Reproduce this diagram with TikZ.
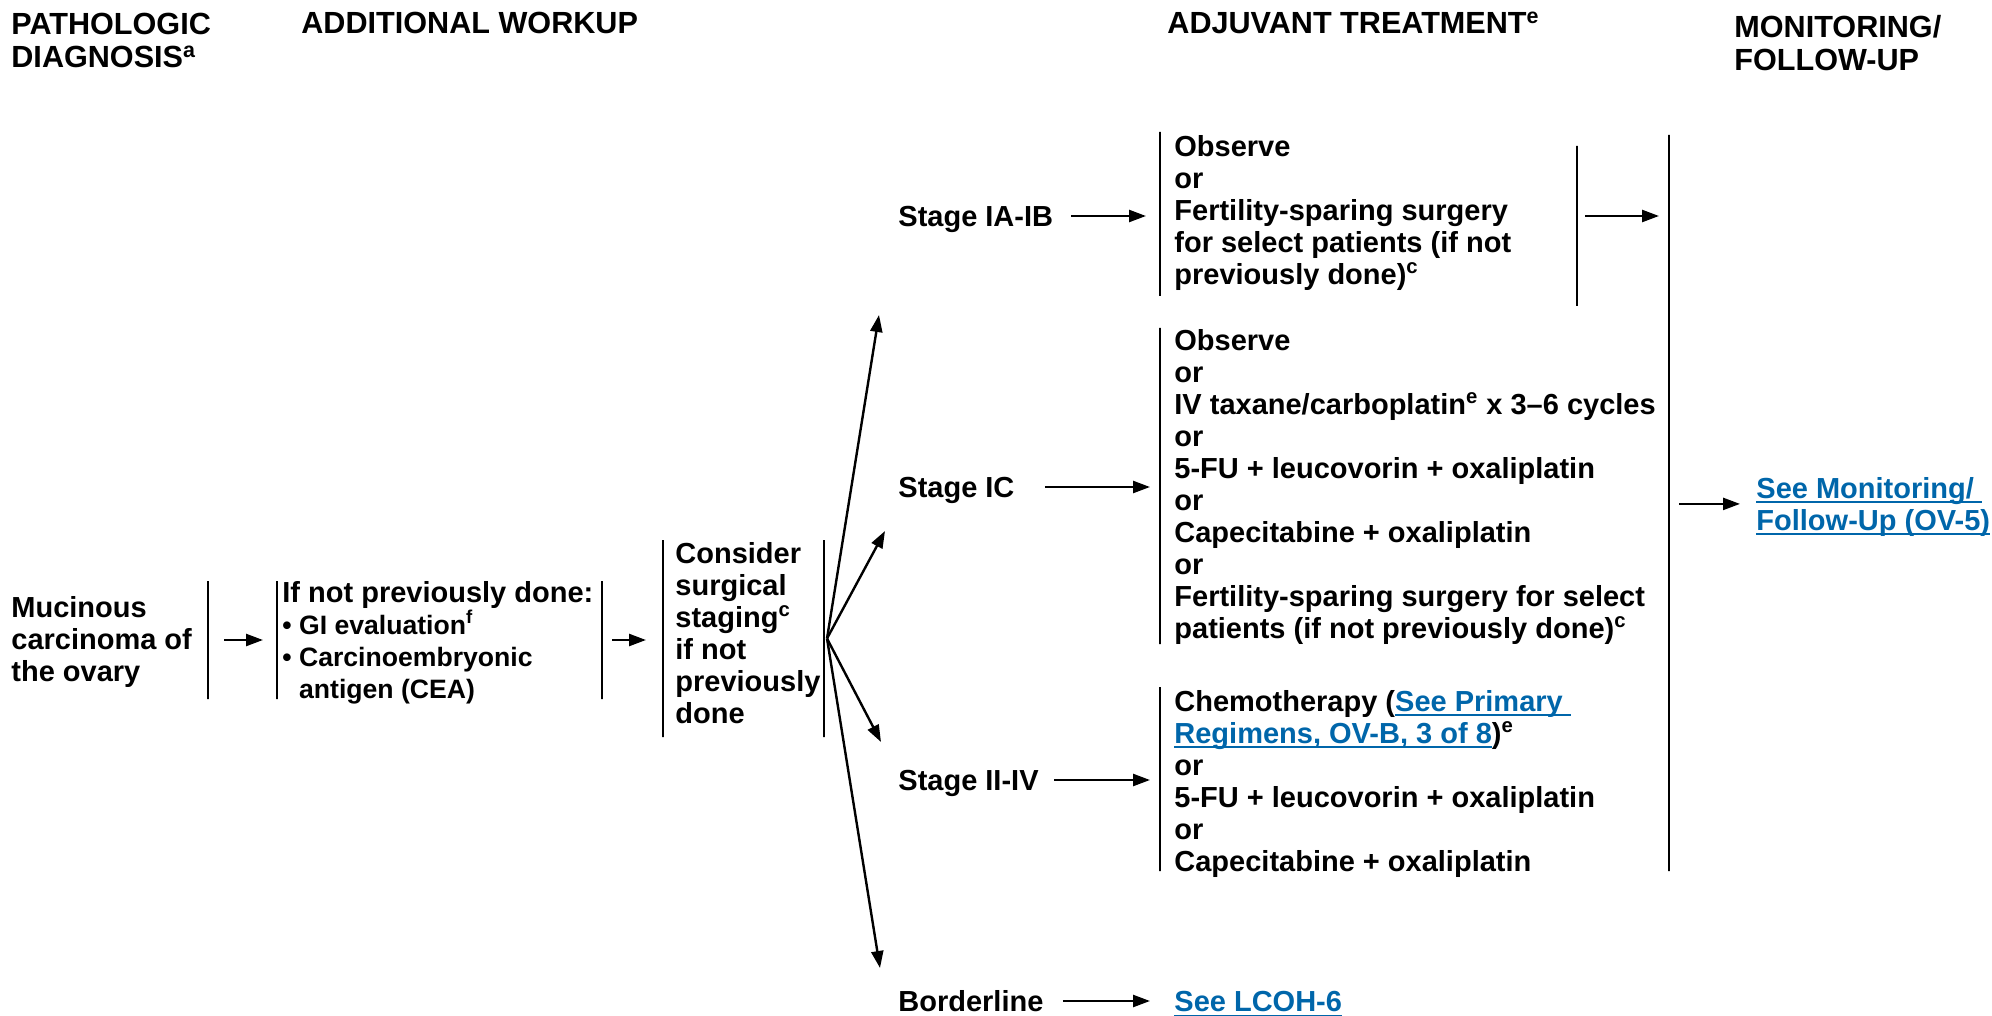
\documentclass[tikz,border=0pt]{standalone}
\usepackage{fontspec}
\setmainfont{Liberation Sans}
\usetikzlibrary{arrows.meta}
\definecolor{link}{RGB}{0,102,170}
\newcommand{\lnk}[1]{\textcolor{link}{\setbox0\hbox{#1}\rlap{\rule[-2.4pt]{\wd0}{0.9pt}}\box0}}
\begin{document}
\begin{tikzpicture}[x=0.5pt,y=-0.5pt,
  txt/.style={inner sep=0pt, font=\fontsize{14.5}{16}\selectfont\bfseries, align=left},
  hdr/.style={txt, font=\fontsize{15.3}{16.5}\selectfont\bfseries},
  one/.style={txt, text height=10.5pt, text depth=0pt, anchor=west},
  arr/.style={-{Triangle[length=8.5pt,width=6pt]}, line width=1.2pt},
  bar/.style={draw, line width=1.2pt, inner sep=0pt, minimum width=0pt, rectangle},
]
\useasboundingbox (0,0) rectangle (1992,1016);

% headers
\node[hdr, anchor=north west] (hPath) at (11,13) {PATHOLOGIC\\DIAGNOSIS\textsuperscript{a}};
\node[hdr, anchor=west, text height=11pt, text depth=0pt] (hWork) at (301,22.5) {ADDITIONAL WORKUP};
\node[hdr, anchor=west, text height=11pt, text depth=0pt] (hAdj) at (1167,22.5) {ADJUVANT TREATMENT\textsuperscript{e}};
\node[hdr, anchor=north west] (hMon) at (1734,15) {MONITORING/\\FOLLOW-UP};

% left part
\node[txt, anchor=north west] (muc) at (11,596) {Mucinous\\carcinoma of\\the ovary};
\node[txt, anchor=north west] (wk) at (282,581) {If not previously done:\\
  {\fontsize{13.3}{16}\selectfont\textbullet\ GI evaluation\textsuperscript{f}}\\
  {\fontsize{13.3}{16}\selectfont\textbullet\ Carcinoembryonic}\\
  {\fontsize{13.3}{16}\selectfont\phantom{\textbullet\ }antigen (CEA)}};
\node[txt, anchor=north west] (cons) at (675,542) {Consider\\surgical\\staging\textsuperscript{c}\\if not\\previously\\done};

% bars
\node[bar, minimum height=59pt] (b1) at (208,640) {};
\node[bar, minimum height=59pt] (b2) at (277,640) {};
\node[bar, minimum height=59pt] (b3) at (602,640) {};
\node[bar, minimum height=98.5pt] (b4) at (663,638.5) {};
\node[bar, minimum height=98.5pt] (b5) at (824,638.5) {};
\node[bar, minimum height=82pt] (bA) at (1160,214) {};
\node[bar, minimum height=80pt] (bA2) at (1577,226) {};
\node[bar, minimum height=158pt] (bC) at (1160,486) {};
\node[bar, minimum height=92pt] (bD) at (1160,779) {};
\node[bar, minimum height=368pt] (bM) at (1669,503) {};

% stages
\node[one] (sA) at (898,216) {Stage IA-IB};
\node[one] (sC) at (898,487) {Stage IC};
\node[one] (sD) at (898,780) {Stage II-IV};
\node[one] (sB) at (898,1001) {Borderline};

% treatments
\node[txt, anchor=north west] (tA) at (1174,135) {Observe\\or\\Fertility-sparing surgery\\for select patients (if not\\previously done)\textsuperscript{c}};
\node[txt, anchor=north west] (tC) at (1174,329) {Observe\\or\\IV taxane/carboplatin\textsuperscript{e} x 3–6 cycles\\or\\5-FU + leucovorin + oxaliplatin\\or\\Capecitabine + oxaliplatin\\or\\Fertility-sparing surgery for select\\patients (if not previously done)\textsuperscript{c}};
\node[txt, anchor=north west] (tD) at (1174,690) {Chemotherapy (\lnk{See Primary\ }\\\lnk{Regimens, OV-B, 3 of 8})\textsuperscript{e}\\or\\5-FU + leucovorin + oxaliplatin\\or\\Capecitabine + oxaliplatin};
\node[one] (tB) at (1174,1001) {\lnk{See LCOH-6}};
\node[txt, anchor=north west] (mon) at (1756,477) {\lnk{See Monitoring/\ }\\\lnk{Follow-Up (OV-5)}};

% connectors
\draw[arr] ([xshift=8pt]b1.center) -- ([xshift=-7pt]b2.center);
\draw[arr] ([xshift=5pt]b3.center) -- ([xshift=-8.5pt]b4.center |- b3.center);
\coordinate (fan) at ([xshift=1.5pt]b5.center);
\coordinate (fA) at (879,315);
\coordinate (fC) at (885,531);
\coordinate (fD) at (881,742);
\coordinate (fB) at (880,968);
\draw[arr] (fan) -- (fA);
\draw[arr] (fan) -- (fC);
\draw[arr] (fan) -- (fD);
\draw[arr] (fan) -- (fB);
\draw[arr] ([xshift=9pt]sA.east) -- ([xshift=-7pt]sA.east -| bA.center);
\draw[arr] ([xshift=15pt]sC.east) -- ([xshift=-5pt]sC.east -| bC.center);
\draw[arr] ([xshift=7.5pt]sD.east) -- ([xshift=-5pt]sD.east -| bD.center);
\draw[arr] ([xshift=9.5pt]sB.east) -- ([xshift=-12pt]tB.west);
\draw[arr] ([xshift=4pt]bA2.center |- sA.east) -- ([xshift=-5pt]bM.center |- sA.east);
\draw[arr] ([xshift=5pt,yshift=1.5pt]bM.center |- mon.west) -- ([xshift=-8pt,yshift=1.5pt]mon.west);
\end{tikzpicture}
\end{document}
